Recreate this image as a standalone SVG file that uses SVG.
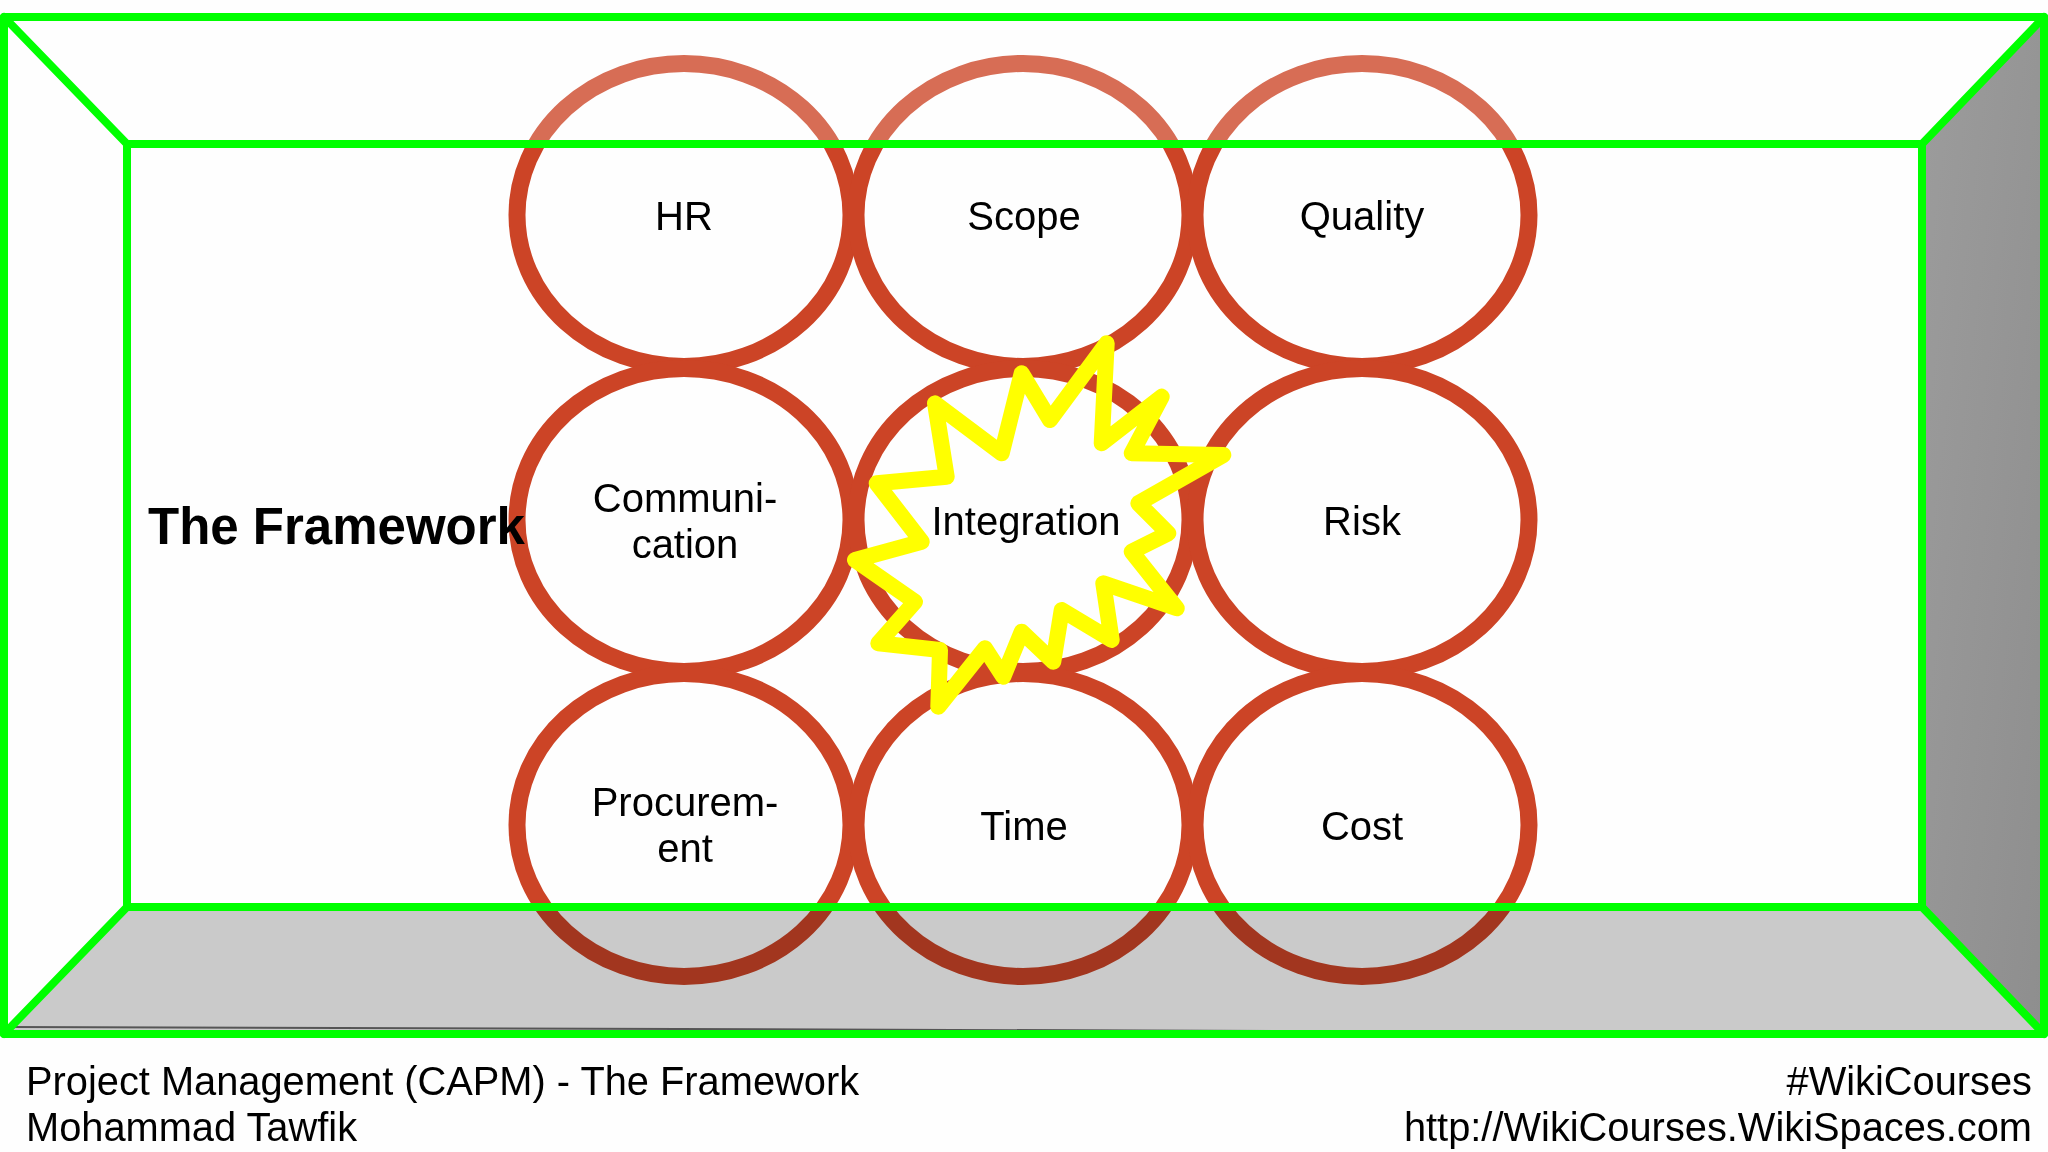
<svg xmlns="http://www.w3.org/2000/svg" width="2048" height="1152" viewBox="0 0 2048 1152">
  <defs>
    <linearGradient id="wallGrad" x1="0" y1="0" x2="1" y2="1">
      <stop offset="0" stop-color="#9c9c9c"/>
      <stop offset="1" stop-color="#8e8e8e"/>
    </linearGradient>
    <style>
      .ring { fill: none; stroke: #cc4426; stroke-width: 17; }
      .label { font-family: "Liberation Sans", Arial, sans-serif; font-size: 40px; fill: #000; text-anchor: middle; }
      .edge { stroke: #00ff00; stroke-width: 8; fill: none; stroke-linecap: round; stroke-linejoin: round; }
      .foot { font-family: "Liberation Sans", Arial, sans-serif; font-size: 39.8px; fill: #000; }
    </style>
  </defs>

  <rect x="0" y="0" width="2048" height="1152" fill="#fefefe"/>

  <!-- right wall -->
  <polygon points="1922,144 2044,17 2044,1034 1922,907" fill="url(#wallGrad)"/>

  <!-- nodes -->
  <g id="node-hr">
    <ellipse class="ring" cx="684" cy="215" rx="167" ry="151.5"/>
    <text class="label" x="684" y="230">HR</text>
  </g>
  <g id="node-scope">
    <ellipse class="ring" cx="1023" cy="215" rx="167" ry="151.5"/>
    <text class="label" x="1024" y="230">Scope</text>
  </g>
  <g id="node-quality">
    <ellipse class="ring" cx="1362" cy="215" rx="167" ry="151.5"/>
    <text class="label" x="1362" y="230">Quality</text>
  </g>
  <g id="node-communication">
    <ellipse class="ring" cx="684" cy="520" rx="167" ry="151.5"/>
    <text class="label" x="685" y="512">Communi-</text>
    <text class="label" x="685" y="558">cation</text>
  </g>
  <g id="node-integration">
    <ellipse class="ring" cx="1023" cy="520" rx="167" ry="151.5"/>
  </g>
  <g id="node-risk">
    <ellipse class="ring" cx="1362" cy="520" rx="167" ry="151.5"/>
    <text class="label" x="1362" y="535">Risk</text>
  </g>
  <g id="node-procurement">
    <ellipse class="ring" cx="684" cy="825" rx="167" ry="151.5"/>
    <text class="label" x="685" y="816">Procurem-</text>
    <text class="label" x="685" y="862">ent</text>
  </g>
  <g id="node-time">
    <ellipse class="ring" cx="1023" cy="825" rx="167" ry="151.5"/>
    <text class="label" x="1024" y="840">Time</text>
  </g>
  <g id="node-cost">
    <ellipse class="ring" cx="1362" cy="825" rx="167" ry="151.5"/>
    <text class="label" x="1362" y="840">Cost</text>
  </g>

  <!-- ceiling tint and floor (multiply) -->
  <polygon points="4,17 2044,17 1922,144 127,144" fill="#ffffff" fill-opacity="0.22"/>
  <polygon points="127,907 1922,907 2044,1034 4,1034" fill="#cbcbcb" style="mix-blend-mode:multiply"/>
  <line x1="8" y1="1027" x2="1300" y2="1031" stroke="#555" stroke-width="2"/>

  <!-- integration burst -->
  <g id="node-integration-burst">
    <polygon points="1106.7,343.3 1050,420 1021.7,373.3 1001.7,453.3 935,403.3 946.7,476.7 876.7,483.3 921.7,541.7 855,560 915,601.7 878.3,643.3 940,650 938.3,706.7 985,648.3 1003.3,676.7 1021.7,631.7 1053.3,661.7 1061.7,610 1111.7,640 1103.3,583.3 1176.7,608.3 1131.7,551.7 1168.3,533.3 1138.3,503.3 1223.3,455 1131.7,453.3 1161.7,396.7 1101.7,443.3" fill="none" stroke="#ffff00" stroke-width="16" stroke-linejoin="round"/>
    <text class="label" x="1026" y="535">Integration</text>
  </g>

  <!-- box edges -->
  <g id="connectors">
    <rect class="edge" x="4" y="17" width="2040" height="1017"/>
    <rect class="edge" x="127" y="144" width="1795" height="763"/>
    <line class="edge" x1="4" y1="17" x2="127" y2="144"/>
    <line class="edge" x1="2044" y1="17" x2="1922" y2="144"/>
    <line class="edge" x1="127" y1="907" x2="4" y2="1034"/>
    <line class="edge" x1="1922" y1="907" x2="2044" y2="1034"/>
  </g>

  <text id="title" x="148" y="544" font-family="Liberation Sans, Arial, sans-serif" font-size="51" font-weight="bold" fill="#000">The Framework</text>

  <text class="foot" x="26" y="1095">Project Management (CAPM) - The Framework</text>
  <text class="foot" x="26" y="1141">Mohammad Tawfik</text>
  <text class="foot" x="2032" y="1095" text-anchor="end">#WikiCourses</text>
  <text class="foot" x="2032" y="1141" text-anchor="end">http://WikiCourses.WikiSpaces.com</text>
</svg>
